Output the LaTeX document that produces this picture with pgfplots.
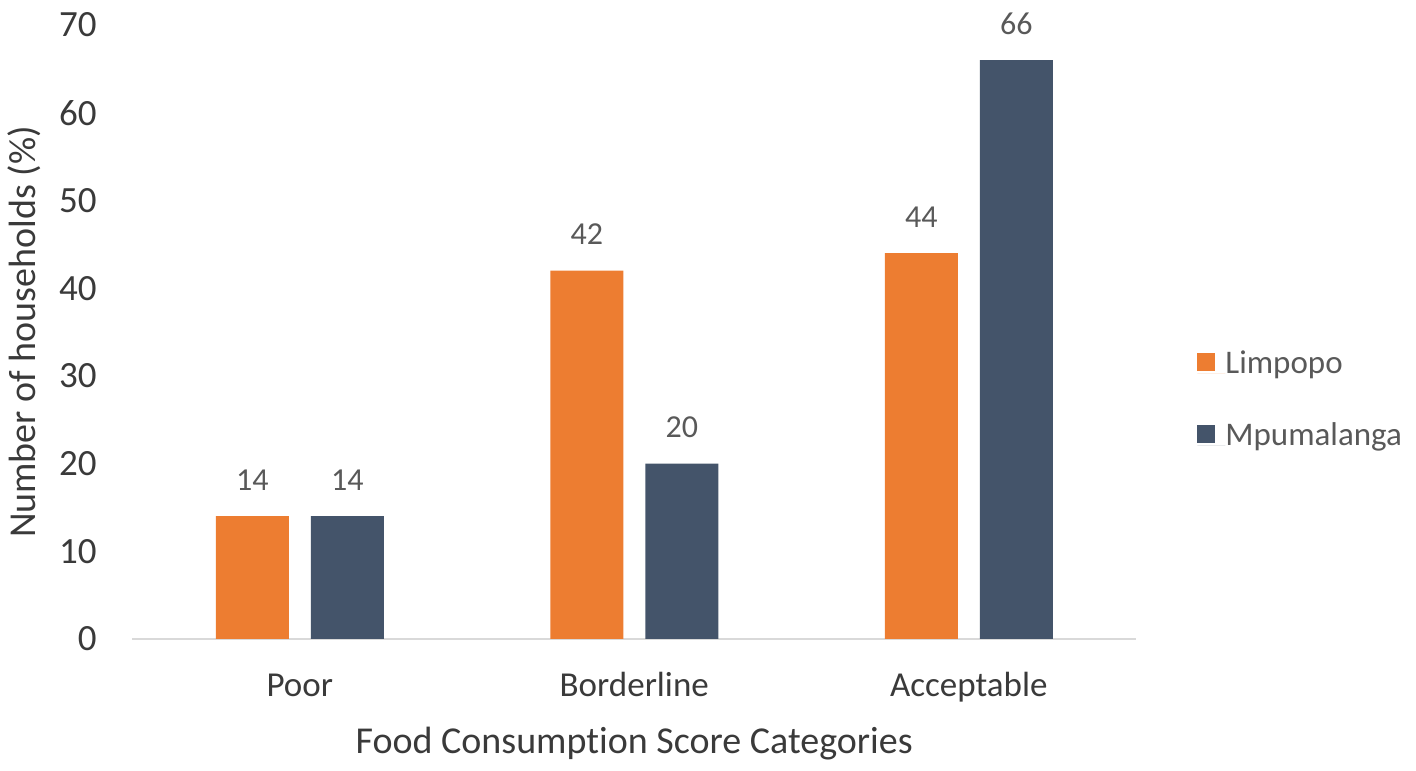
\documentclass[border=0pt]{standalone}
\usepackage{pgfplots}
\pgfplotsset{compat=1.18}
\usepackage{fontspec}
\setmainfont{Carlito}[RawFeature={-liga;-clig;-calt;-dlig}]
\definecolor{limp}{HTML}{ED7D31}
\definecolor{mpum}{HTML}{44546A}
\definecolor{axisgray}{HTML}{D9D9D9}
\definecolor{txtdark}{HTML}{3A3A3A}
\definecolor{txtgray}{HTML}{595959}
\begin{document}
\begin{tikzpicture}
\path[use as bounding box] (0,0) rectangle (708pt,385pt);
\begin{axis}[
  at={(66.25pt,65.5pt)}, anchor=south west,
  scale only axis, width=501.75pt, height=307pt,
  ybar=11pt, bar width=36.5pt,
  xmin=-0.5, xmax=2.5, ymin=0, ymax=70,
  xtick={0,1,2}, xticklabels={Poor,Borderline,Acceptable},
  ytick={0,10,...,70},
  /pgf/number format/assume math mode=true,
  separate axis lines,
  axis x line*=bottom, axis y line*=left,
  x axis line style={draw=axisgray, line width=1pt, -},
  y axis line style={draw=none},
  tick style={draw=none},
  major tick length=0pt,
  y tick label style={font=\fontsize{18.5}{20}\selectfont, text=txtdark, anchor=east, inner sep=0pt, xshift=-17.75pt},
  x tick label style={font=\fontsize{17.5}{20}\selectfont, text=txtdark, anchor=base, inner sep=0pt, yshift=-28.5pt},
  every axis x label/.style={at={(axis description cs:0.5,-0.1857)}, anchor=base, font=\fontsize{19}{22}\selectfont, text=txtdark, inner sep=0pt},
  every axis y label/.style={at={(axis description cs:-0.09716,0.5)}, rotate=90, anchor=base, font=\fontsize{19}{22}\selectfont, text=txtdark, inner sep=0pt},
  xlabel={Food Consumption Score Categories},
  ylabel={Number of households (\%)},
  nodes near coords,
  every node near coord/.append style={font=\fontsize{16}{18}\selectfont, text=txtgray, anchor=base, inner sep=0pt, yshift=13pt},
  legend style={at={(1.0608,0.3876)}, anchor=west, draw=none, fill=none, inner sep=0pt,
    font=\fontsize{16.5}{18}\selectfont, text=txtgray, row sep=20pt,
    nodes={inner sep=0pt, text height=12pt, text depth=4pt, anchor=base west}},
  legend cell align=left,
  legend image code/.code={\fill[#1, draw=none] (0pt,1pt) rectangle (9pt,10pt); \path (0pt,0pt) -- (14pt,0pt);},
]
\addplot[fill=limp, draw=none] coordinates {(0,14) (1,42) (2,44)};
\addplot[fill=mpum, draw=none] coordinates {(0,14) (1,20) (2,66)};
\legend{Limpopo, Mpumalanga}
\end{axis}
\end{tikzpicture}
\end{document}
